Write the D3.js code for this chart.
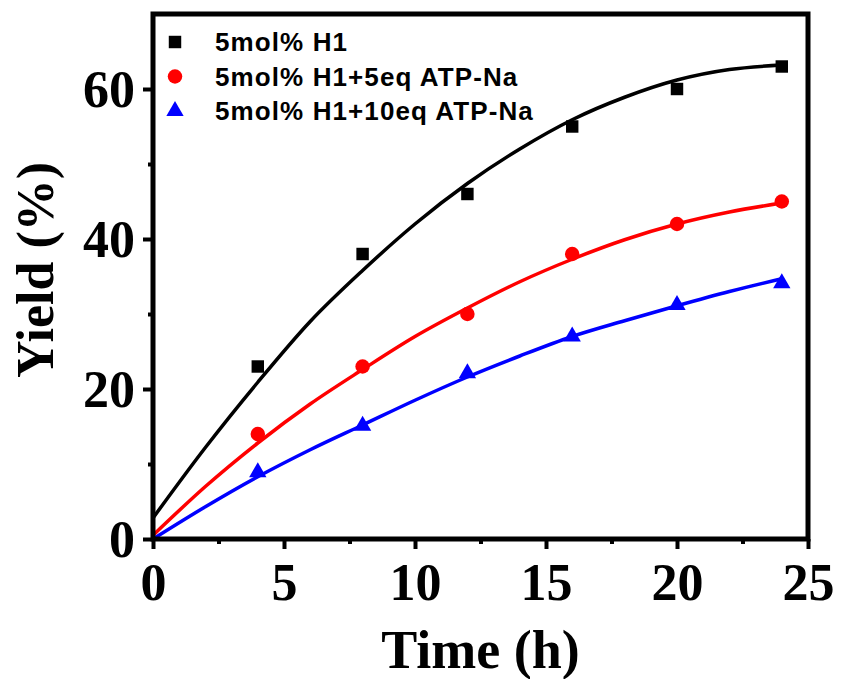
<!DOCTYPE html>
<html>
<head>
<meta charset="utf-8">
<script src="https://cdn.jsdelivr.net/npm/d3@7"></script>
<style>
  body { margin: 0; background: #fff; }
  .tick text { font-family: "Liberation Serif", "Times New Roman", serif; font-weight: bold; }
</style>
</head>
<body>
<div id="chart"></div>
<script>
// measured points
var times = [4, 8, 12, 16, 20, 24];
var yield_h1 = [23, 38, 46, 55, 60, 63];
var yield_5eq = [14, 23, 30, 38, 42, 45];
var yield_10eq = [8.9, 15.1, 22.1, 27, 31.2, 34.1];

// fitted curves, every 2 h
var fit_times = [0, 2, 4, 6, 8, 10, 12, 14, 16, 18, 20, 22, 24];
var fit_h1 = [2.8, 12.2, 20.9, 29.0, 35.8, 42.0, 47.4, 52.0, 55.9, 58.9, 61.2, 62.6, 63.2];
var fit_5eq = [0.5, 7.0, 12.8, 18.0, 22.6, 27.0, 30.8, 34.3, 37.3, 39.9, 42.0, 43.6, 44.8];
var fit_10eq = [0, 4.3, 8.3, 11.9, 15.2, 18.5, 21.6, 24.4, 27.0, 29.1, 31.1, 33.0, 34.7];

var series_names = ["5mol% H1", "5mol% H1+5eq ATP-Na", "5mol% H1+10eq ATP-Na"];
var series_colors = ["#000000", "#ff0000", "#0000ff"];
var series_shapes = ["square", "circle", "triangle"];

var x_ticks = [0, 5, 10, 15, 20, 25];
var x_minor = [2.5, 7.5, 12.5, 17.5, 22.5];
var y_ticks = [0, 20, 40, 60];
var y_minor = [10, 30, 50];

var width = 843, height = 679;
var margin = {top: 14, right: 35, bottom: 140, left: 153};
var plot_w = width - margin.left - margin.right,
    plot_h = height - margin.top - margin.bottom;

var svg = d3.select("#chart").append("svg")
    .attr("width", width)
    .attr("height", height);

var g = svg.append("g")
    .attr("transform", "translate(" + margin.left + "," + margin.top + ")");

var x = d3.scaleLinear().domain([0, 25]).range([0, plot_w]);
var y = d3.scaleLinear().domain([0, 70]).range([plot_h, 0]);

// minor ticks first, then the major ones
g.append("g")
    .attr("transform", "translate(0," + plot_h + ")")
    .call(d3.axisBottom(x).tickValues(x_minor).tickSize(5).tickFormat(""))
    .call(function(a) { a.select(".domain").remove(); })
    .selectAll("line").attr("stroke-width", 4);

g.append("g")
    .call(d3.axisLeft(y).tickValues(y_minor).tickSize(5).tickFormat(""))
    .call(function(a) { a.select(".domain").remove(); })
    .selectAll("line").attr("stroke-width", 4);

var x_axis = g.append("g")
    .attr("transform", "translate(0," + plot_h + ")")
    .call(d3.axisBottom(x).tickValues(x_ticks).tickSize(10).tickPadding(14).tickSizeOuter(0));
x_axis.select(".domain").remove();
x_axis.selectAll("line").attr("stroke-width", 4);
x_axis.selectAll("text").attr("font-size", 52).attr("fill", "#000");

var y_axis = g.append("g")
    .call(d3.axisLeft(y).tickValues(y_ticks).tickSize(10).tickPadding(8).tickSizeOuter(0));
y_axis.select(".domain").remove();
y_axis.selectAll("line").attr("stroke-width", 4);
y_axis.selectAll("text").attr("font-size", 52).attr("fill", "#000").attr("dy", "0.34em");

// fitted lines
var fits = [fit_h1, fit_5eq, fit_10eq];
var line = d3.line()
    .x(function(d) { return x(d[0]); })
    .y(function(d) { return y(d[1]); })
    .curve(d3.curveMonotoneX);

fits.forEach(function(fit, i) {
    g.append("path")
        .datum(fit_times.map(function(t, j) { return [t, fit[j]]; }))
        .attr("fill", "none")
        .attr("stroke", series_colors[i])
        .attr("stroke-width", 3.5)
        .attr("d", line);
});

// markers
var symbol_types = {
    square: d3.symbol().type(d3.symbolSquare).size(155),
    circle: d3.symbol().type(d3.symbolCircle).size(165),
    triangle: d3.symbol().type(d3.symbolTriangle).size(130)
};

var points = [yield_h1, yield_5eq, yield_10eq];
points.forEach(function(vals, i) {
    g.append("g").selectAll("path")
        .data(times.map(function(t, j) { return [t, vals[j]]; }))
        .enter().append("path")
        .attr("d", symbol_types[series_shapes[i]])
        .attr("fill", series_colors[i])
        .attr("transform", function(d) { return "translate(" + x(d[0]) + "," + y(d[1]) + ")"; });
});

// frame
g.append("rect")
    .attr("width", plot_w)
    .attr("height", plot_h)
    .attr("fill", "none")
    .attr("stroke", "#000")
    .attr("stroke-width", 5);

// legend
var legend = g.append("g").attr("transform", "translate(22,28)");
series_names.forEach(function(name, i) {
    var row = legend.append("g").attr("transform", "translate(0," + (i * 34.5) + ")");
    row.append("path")
        .attr("d", symbol_types[series_shapes[i]])
        .attr("fill", series_colors[i]);
    row.append("text")
        .attr("x", 40)
        .attr("y", 9)
        .attr("font-family", "'Liberation Sans', Arial, sans-serif")
        .attr("font-weight", "bold")
        .attr("font-size", 26)
        .attr("letter-spacing", 1.1)
        .text(name);
});

// axis titles
svg.append("text")
    .attr("x", margin.left + plot_w / 2)
    .attr("y", 668)
    .attr("text-anchor", "middle")
    .attr("font-family", "'Liberation Serif', 'Times New Roman', serif")
    .attr("font-weight", "bold")
    .attr("font-size", 54)
    .text("Time (h)");

svg.append("text")
    .attr("transform", "translate(53,270) rotate(-90)")
    .attr("text-anchor", "middle")
    .attr("font-family", "'Liberation Serif', 'Times New Roman', serif")
    .attr("font-weight", "bold")
    .attr("font-size", 52)
    .text("Yield (%)");
</script>
</body>
</html>
